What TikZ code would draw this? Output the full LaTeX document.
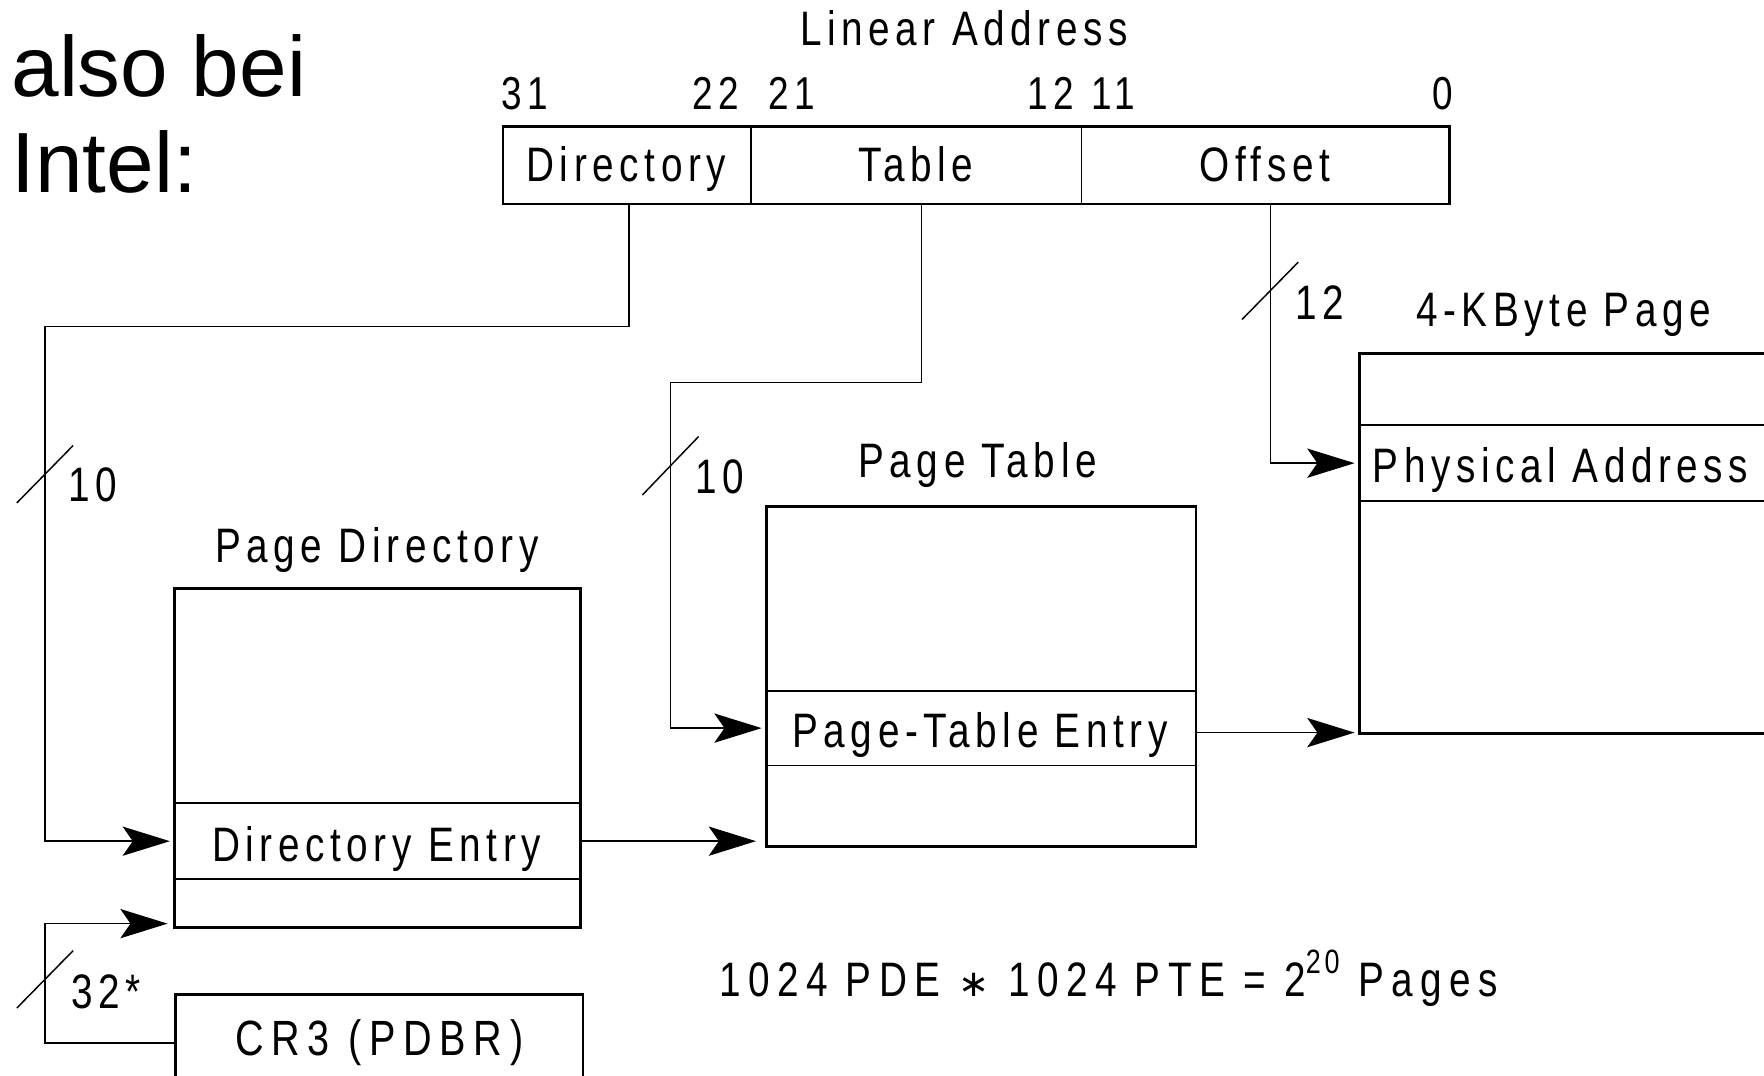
\documentclass[tikz,border=0pt]{standalone}
\usepackage{fontspec}
\setmainfont{Liberation Sans}
\newfontfamily\dfont[FakeStretch=0.8,LetterSpace=11.6]{Liberation Sans}
\newfontfamily\dfontw[FakeStretch=0.8,LetterSpace=15.5]{Liberation Sans}
\newfontfamily\symfnt{DejaVu Sans}
\usetikzlibrary{arrows.meta}
\begin{document}
\begin{tikzpicture}[x=1pt,y=-1pt,
  box/.style={draw, line width=2.4pt, inner sep=0pt, anchor=north west},
  slot/.style={inner sep=0pt, anchor=north west, font=\dfont\fontsize{43}{50}\selectfont, text height=#1, text depth=0pt},
  div/.style={line width=1.5pt},
  conn/.style={line width=1.3pt, draw=black},
  arr/.style={conn, -{Stealth[length=42pt,width=26pt,inset=9pt]}, shorten >=3pt},
  lbl/.style={inner sep=0pt, font=\dfont\fontsize{43}{50}\selectfont},
  numlbl/.style={inner sep=0pt, font=\dfont\fontsize{41}{48}\selectfont},
  slash/.style={line width=1.3pt},
]
\fill[white] (0,0) rectangle (1568,956);
\useasboundingbox (0,0) rectangle (1568,956);

% heading
\node[anchor=base west, inner sep=0pt, font=\fontsize{76}{85}\selectfont] (hdr1) at (10,86) {also bei};
\node[anchor=base west, inner sep=0pt, font=\fontsize{76}{85}\selectfont] (hdr2) at (10,171) {Intel:};

% linear address
\node[lbl, anchor=base] (title) at (857,40) {Linear Address};
\node[numlbl, anchor=base west] (b31) at (446,97) {31};
\node[numlbl, anchor=base east] (b22) at (657,97) {22};
\node[numlbl, anchor=base west] (b21) at (683,97) {21};
\node[numlbl, anchor=base east] (b12) at (955,97) {12};
\node[numlbl, anchor=base west] (b11) at (970,97) {11};
\node[numlbl, anchor=base east] (b0) at (1292,97) {0};

\node[box, minimum width=841pt, minimum height=69pt] (la) at (446,111) {};
\node[slot=32pt, minimum width=221pt, minimum height=69pt] (fdir) at (446,111) {Directory};
\node[slot=32pt, minimum width=294pt, minimum height=69pt] (ftab) at (667,111) {Table};
\node[slot=32pt, minimum width=326pt, minimum height=69pt] (foff) at (961,111) {Offset};
\draw[div] (fdir.north east) -- (fdir.south east);
\draw[div] (ftab.north east) -- (ftab.south east);

% page directory
\node[lbl, anchor=base] (tpd) at (335,500) {Page Directory};
\node[box, minimum width=361pt, minimum height=301pt] (pd) at (154,522) {};
\node[slot=37pt, minimum width=361pt, minimum height=67pt] (de) at (154,714) {Directory Entry};
\draw[div] (de.north west) -- (de.north east) (de.south west) -- (de.south east);

% CR3
\node[box, slot=22pt, minimum width=362pt, minimum height=86pt, font=\dfontw\fontsize{44}{50}\selectfont] (cr3) at (155,883) {CR3 (PDBR)};

% page table
\node[lbl, anchor=base] (tpt) at (869,424) {Page Table};
\node[box, minimum width=382pt, minimum height=302pt] (pt) at (680,449) {};
\node[slot=34pt, minimum width=382pt, minimum height=66pt] (pte) at (680,614) {Page-Table Entry};
\draw[div] (pte.north west) -- (pte.north east) (pte.south west) -- (pte.south east);

% 4 KByte page
\node[lbl, anchor=base] (tpg) at (1390,290) {4-KByte Page};
\node[box, minimum width=420pt, minimum height=338pt] (pg) at (1207,313) {};
\node[slot=35pt, minimum width=360pt, minimum height=67pt] (pa) at (1207,378) {Physical Address};
\draw[div] (pa.north west) -- (pa.north west -| pg.east) (pa.south west) -- (pa.south west -| pg.east);

% connectors
\coordinate (k1) at (40,290);
\coordinate (k2) at (596,340);
\coordinate (k3) at (40,821);
\draw[arr] ([xshift=2.5pt]fdir.south) |- (k1) |- (de.west);
\draw[arr] ([xshift=5pt]ftab.south) |- (k2) |- (pte.west);
\draw[arr] ([xshift=5pt]foff.south) |- (pa.west);
\draw[arr, shorten >=8pt] (de.east) -- (de.east -| pt.west);
\draw[arr] ([yshift=-4pt]pte.east) -- ([yshift=-4pt]pte.east -| pg.west);
\draw[arr, shorten >=5pt] (cr3.west) -| (k3) -- (k3 -| pd.west);

% bit-width marks
\draw[slash] (15,447) -- (65,396);
\node[numlbl, anchor=base west, font=\dfont\fontsize{43}{50}\selectfont] (n10a) at (61,446) {10};
\draw[slash] (571,440) -- (621,388);
\node[numlbl, anchor=base west, font=\dfont\fontsize{43}{50}\selectfont] (n10b) at (618,439) {10};
\draw[slash] (1104,284) -- (1154,233);
\node[numlbl, anchor=base west, font=\dfont\fontsize{43}{50}\selectfont] (n12) at (1151,284) {12};
\draw[slash] (15,896) -- (65,845);
\node[numlbl, anchor=base west, font=\dfont\fontsize{43}{50}\selectfont] (n32) at (63,896) {32*};

% formula
\node[lbl, anchor=base west, font=\dfontw\fontsize{43}{50}\selectfont] (formula) at (639,886) {1024 PDE {\symfnt\fontsize{33}{40}\selectfont ∗} 1024 PTE = 2\raisebox{21pt}{\dfont\fontsize{30}{30}\selectfont 20} Pages};
\end{tikzpicture}
\end{document}
